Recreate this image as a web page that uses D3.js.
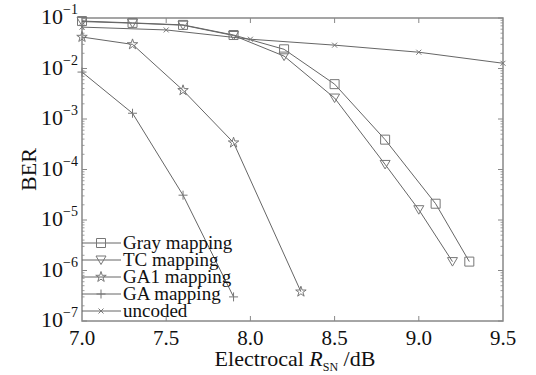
<!DOCTYPE html>
<html>
<head>
<meta charset="utf-8">
<script src="https://cdn.jsdelivr.net/npm/d3@7"></script>
<style>
  body { margin: 0; background: #fff; }
  text { font-family: "Liberation Serif", "DejaVu Serif", serif; fill: #111; }
</style>
</head>
<body>
<script>
// Data
var snrGray = [7.0, 7.3, 7.6, 7.9, 8.2, 8.5, 8.8, 9.1, 9.3];
var berGray = [0.087, 0.080, 0.073, 0.046, 0.024, 4.9e-3, 3.9e-4, 2.1e-5, 1.5e-6];
var snrTC = [7.0, 7.3, 7.6, 7.9, 8.2, 8.5, 8.8, 9.0, 9.2];
var berTC = [0.085, 0.079, 0.072, 0.045, 0.0176, 2.6e-3, 1.26e-4, 1.6e-5, 1.5e-6];
var snrGA1 = [7.0, 7.3, 7.6, 7.9, 8.3];
var berGA1 = [0.042, 0.030, 3.7e-3, 3.4e-4, 3.8e-7];
var snrGA = [7.0, 7.3, 7.6, 7.9];
var berGA = [8.5e-3, 1.3e-3, 3.1e-5, 3.0e-7];
var snrUncoded = [7.0, 7.5, 8.0, 8.5, 9.0, 9.5];
var berUncoded = [0.066, 0.058, 0.038, 0.029, 0.021, 0.0127];

var xTicks = [7.0, 7.5, 8.0, 8.5, 9.0, 9.5];
var yExponents = [-1, -2, -3, -4, -5, -6, -7];
var seriesNames = ["Gray mapping", "TC mapping", "GA1 mapping", "GA mapping", "uncoded"];
var seriesMarks = ["square", "triangle", "star", "plus", "cross"];

var w = 536;
var h = 375;
var mLeft = 82, mRight = 503, mTop = 18, mBottom = 321;

var svg = d3.select("body")
            .append("svg")
            .attr("width", w)
            .attr("height", h);

var xScale = d3.scaleLinear()
           .domain([7.0, 9.5])
           .range([mLeft, mRight]);

var yScale = d3.scaleLog()
           .domain([1e-7, 1e-1])
           .range([mBottom, mTop]);

var lineColor = "#666";
var markColor = "#777";
var axisColor = "#888";

// marker shapes
function markPath(kind) {
  if (kind == "square") return "M-4.5,-4.5H4.5V4.5H-4.5Z";
  if (kind == "triangle") return "M-5,-4H5L0,4.5Z";
  if (kind == "star") return d3.symbol().type(d3.symbolStar).size(34)();
  if (kind == "plus") return "M-4.5,0H4.5M0,-4.5V4.5";
  return "M-2.5,-2.5L2.5,2.5M-2.5,2.5L2.5,-2.5";
}

// frame
svg.append("rect")
   .attr("x", mLeft).attr("y", mTop)
   .attr("width", mRight - mLeft).attr("height", mBottom - mTop)
   .attr("fill", "none")
   .attr("stroke", axisColor)
   .attr("stroke-width", 1.5);

// x ticks (inward, top and bottom)
var xg = svg.append("g");
xTicks.forEach(function(t) {
  if (t > 7.0 && t < 9.5) {
    xg.append("line").attr("x1", xScale(t)).attr("x2", xScale(t))
      .attr("y1", mBottom).attr("y2", mBottom - 5).attr("stroke", axisColor);
    xg.append("line").attr("x1", xScale(t)).attr("x2", xScale(t))
      .attr("y1", mTop).attr("y2", mTop + 5).attr("stroke", axisColor);
  }
  xg.append("text")
    .attr("x", xScale(t))
    .attr("y", 345)
    .attr("text-anchor", "middle")
    .style("font-size", "21px")
    .text(d3.format(".1f")(t));
});

// y ticks: majors and minors on both sides
var yg = svg.append("g");
yExponents.forEach(function(e) {
  var v = Math.pow(10, e);
  [mLeft, mRight].forEach(function(x0, k) {
    var dir = k == 0 ? 1 : -1;
    yg.append("line").attr("x1", x0).attr("x2", x0 + dir * 5)
      .attr("y1", yScale(v)).attr("y2", yScale(v)).attr("stroke", axisColor);
    if (e > -7) {
      for (var m = 2; m <= 9; m++) {
        var mv = m * Math.pow(10, e - 1);
        yg.append("line").attr("x1", x0).attr("x2", x0 + dir * 2.5)
          .attr("y1", yScale(mv)).attr("y2", yScale(mv))
          .attr("stroke", axisColor).attr("stroke-width", 0.8);
      }
    }
  });
  var lbl = yg.append("text")
    .attr("x", 78)
    .attr("y", yScale(v) + 6)
    .attr("text-anchor", "end")
    .style("font-size", "22px");
  lbl.append("tspan").text("10");
  lbl.append("tspan").attr("dy", -10).style("font-size", "14px").text("\u2212" + (-e));
});

// axis titles
svg.append("text")
   .attr("transform", "translate(36," + ((mTop + mBottom) / 2) + ") rotate(-90)")
   .attr("text-anchor", "middle")
   .style("font-size", "22px")
   .text("BER");

var xl = svg.append("text")
   .attr("x", 295)
   .attr("y", 366)
   .attr("text-anchor", "middle")
   .style("font-size", "22px");
xl.append("tspan").text("Electrocal ");
xl.append("tspan").style("font-style", "italic").text("R");
xl.append("tspan").attr("dy", 5).style("font-size", "12px").text("SN");
xl.append("tspan").attr("dy", -5).text(" /dB");

// series
var allSeries = [
  [snrGray, berGray],
  [snrTC, berTC],
  [snrGA1, berGA1],
  [snrGA, berGA],
  [snrUncoded, berUncoded]
];

var line = d3.line()
  .x(function(d) { return xScale(d[0]); })
  .y(function(d) { return yScale(d[1]); });

allSeries.forEach(function(s, i) {
  var pts = d3.zip(s[0], s[1]);
  svg.append("path")
     .datum(pts)
     .attr("d", line)
     .attr("fill", "none")
     .attr("stroke", lineColor)
     .attr("stroke-width", 1);
  svg.selectAll(".m" + i)
     .data(pts)
     .enter()
     .append("path")
     .attr("class", "m" + i)
     .attr("transform", function(d) {
       return "translate(" + xScale(d[0]) + "," + yScale(d[1]) + ")";
     })
     .attr("d", markPath(seriesMarks[i]))
     .attr("fill", "none")
     .attr("stroke", markColor)
     .attr("stroke-width", 1);
});

// legend
var legend = svg.selectAll(".legend")
   .data(seriesNames)
   .enter()
   .append("g")
   .attr("class", "legend")
   .attr("transform", function(d, i) {
     return "translate(0," + (243 + i * 17) + ")";
   });

legend.append("line")
  .attr("x1", mLeft).attr("x2", 121)
  .attr("stroke", lineColor);

legend.append("path")
  .attr("transform", "translate(101,0)")
  .attr("d", function(d, i) { return markPath(seriesMarks[i]); })
  .attr("fill", "none")
  .attr("stroke", markColor);

legend.append("text")
  .attr("x", 123)
  .attr("y", 6)
  .style("font-size", "19px")
  .text(function(d) { return d; });
</script>
</body>
</html>
